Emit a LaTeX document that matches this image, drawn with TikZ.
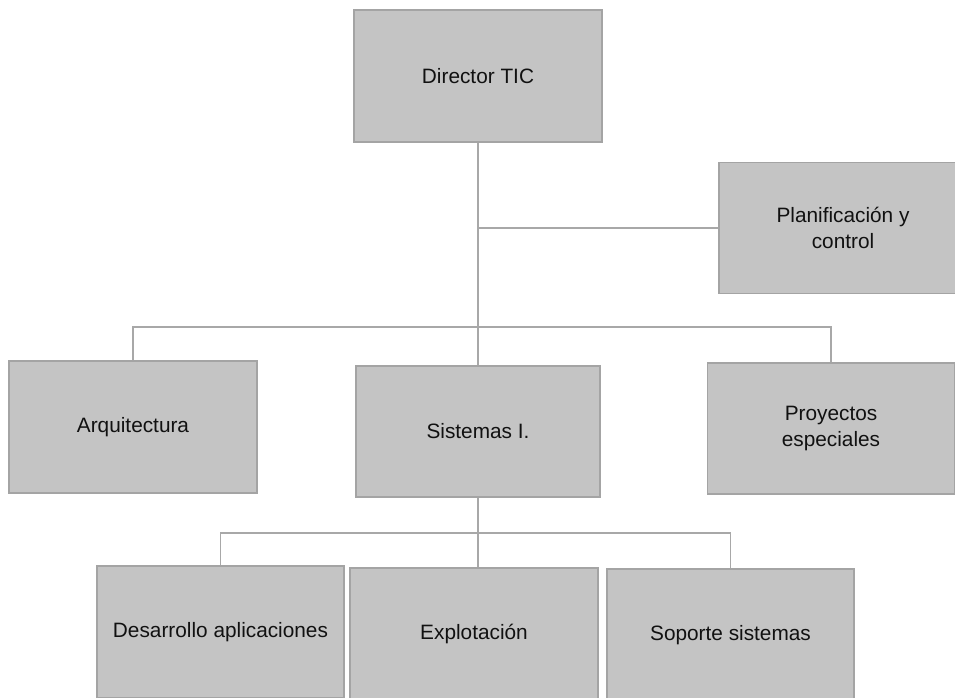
\documentclass[tikz,border=0pt]{standalone}
\usepackage{fontspec}
\setmainfont{Liberation Sans}
\usetikzlibrary{backgrounds}
\definecolor{boxfill}{HTML}{C4C4C4}
\definecolor{boxline}{HTML}{A4A4A4}
\definecolor{linkgray}{HTML}{A8A8A8}
\definecolor{ink}{HTML}{111111}
\begin{document}
\begin{tikzpicture}[x=1pt,y=-1pt,
  unit/.style={rectangle, draw=boxline, fill=boxfill, line width=1.3pt,
    minimum width=248pt, minimum height=132pt, inner sep=0pt,
    align=center, text=ink, font=\fontsize{20.8}{26}\selectfont},
  link/.style={draw=linkgray, line width=1.3pt}]
\useasboundingbox (0,0) rectangle (955,698);

% boxes
\node[unit] (dir)  at (478,76)    {Director TIC};
\node[unit, minimum height=131pt] (plan) at (843,228) {Planificación y\\control};
\node[unit] (arq)  at (133,427)   {Arquitectura};
\node[unit, minimum width=244pt, minimum height=131pt] (sis) at (478,431.5) {Sistemas I.};
\node[unit, minimum width=247pt, minimum height=131pt] (proy) at (831,428.5) {Proyectos\\especiales};
\node[unit, minimum width=247pt] (des)  at (220.5,632) {Desarrollo aplicaciones};
\node[unit] (exp)  at (474,634)   {Explotación};
\node[unit, minimum width=247pt] (sop)  at (730.5,635) {Soporte sistemas};

% bus levels of the connectors
\coordinate (busTop) at (0,327);
\coordinate (busLow) at (0,533);

% connectors, kept behind the boxes
\begin{scope}[on background layer]
  \draw[link] (dir.south) -- (dir.south |- sis.north);
  \draw[link] (dir.south |- plan.west) -- (plan.west);
  \draw[link] (arq.north) -- (arq.north |- busTop) -- (proy.north |- busTop) -- (proy.north);
  \draw[link] (sis.south) -- (sis.south |- exp.north);
  \draw[link] (des.north) -- (des.north |- busLow) -- (sop.north |- busLow) -- (sop.north);
\end{scope}

\end{tikzpicture}
\end{document}
